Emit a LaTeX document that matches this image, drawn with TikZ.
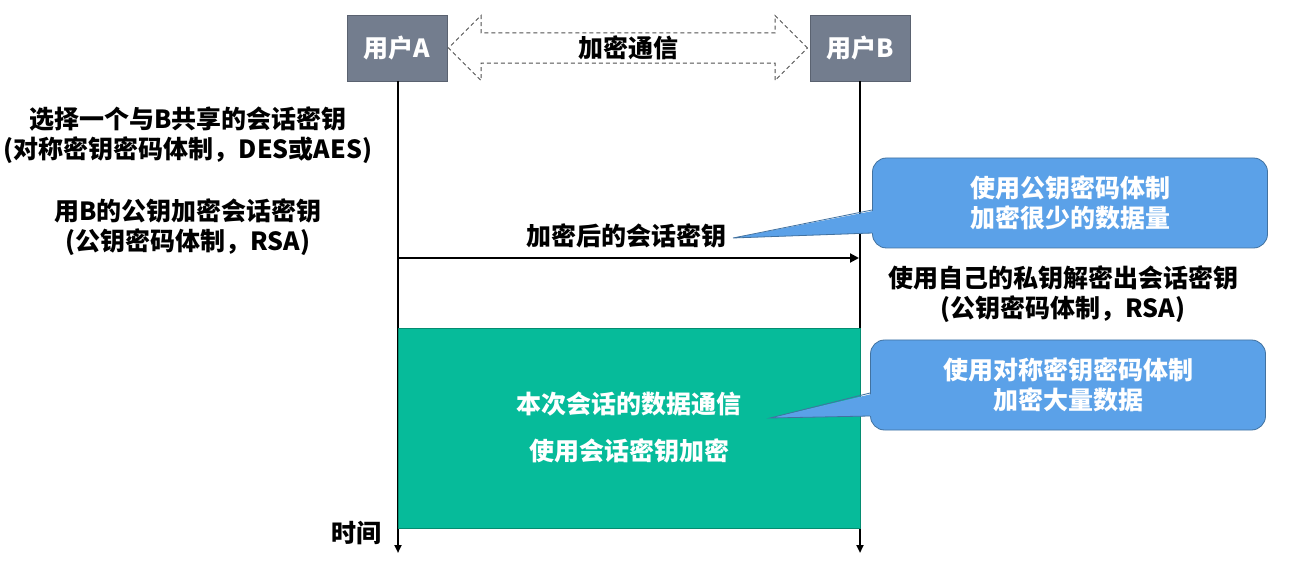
\documentclass[tikz,border=0pt]{standalone}
\usepackage{fontspec}
\setmainfont{Noto Sans CJK SC}
\usetikzlibrary{arrows.meta,shapes.arrows}
\definecolor{usergray}{RGB}{115,125,142}
\definecolor{userline}{RGB}{90,98,112}
\definecolor{tipblue}{RGB}{91,161,232}
\definecolor{tipline}{RGB}{66,114,160}
\definecolor{sessiongreen}{RGB}{6,187,154}
\definecolor{sessionline}{RGB}{4,140,112}
\definecolor{dashgray}{RGB}{80,80,80}
\tikzset{
  txt/.style={font=\fontsize{25}{30}\selectfont\bfseries, inner sep=0pt, align=center},
  userbox/.style={txt, fill=usergray, draw=userline, line width=0.8pt, text=white,
    minimum width=100pt, minimum height=66pt},
  lifeline/.style={line width=2pt, -{Triangle[width=7pt,length=8pt]}},
  msgarrow/.style={line width=2pt, -{Triangle[width=9pt,length=9pt]}},
  tipbox/.style={txt, fill=tipblue, draw=tipline, line width=0.8pt, text=white,
    rounded corners=14pt, minimum width=395pt, minimum height=90pt},
  channel/.style={txt, shape=double arrow, draw=dashgray, line width=1pt,
    dash pattern=on 4pt off 3pt, minimum height=359pt, minimum width=65pt,
    double arrow head extend=14.5pt},
}
\begin{document}
\begin{tikzpicture}[x=1pt,y=-1pt]
\useasboundingbox (0,0) rectangle (1299,561);

% participants
\node[userbox] (ua) at (397,48) {用户A};
\node[userbox] (ub) at (860,48) {用户B};
\node[channel] (ch) at (628,48) {加密通信};

% lifelines
\coordinate (ea) at (398,553);
\coordinate (eb) at (860,553);
\draw[lifeline] (ua.south -| ea) -- (ea);
\draw[lifeline] (ub.south -| eb) -- (eb);

% steps of user A
\node[txt] (s1) at (188,135) {选择一个与B共享的会话密钥\\(对称密钥密码体制，DES或AES)};
\node[txt] (s2) at (188,227) {用B的公钥加密会话密钥\\(公钥密码体制，RSA)};

% encrypted session key message
\coordinate (ma) at (398,258);
\coordinate (mb) at (859,258);
\draw[msgarrow] (ma) -- (mb);
\node[txt] (msg) at (626,236) {加密后的会话密钥};

% step of user B
\node[txt] (s3) at (1063,294) {使用自己的私钥解密出会话密钥\\(公钥密码体制，RSA)};

% session data block
\node[txt, fill=sessiongreen, draw=sessionline, line width=0.8pt, text=white,
  minimum width=462pt, minimum height=200pt,
  font=\fontsize{25}{47}\selectfont\bfseries] (sess) at (629,428)
  {本次会话的数据通信\\使用会话密钥加密};

% time label
\node[txt] (time) at (356,533) {时间};

% callout: public key
\node[tipbox] (c1) at (1070,203) {使用公钥密码体制\\加密很少的数据量};
\coordinate (c1t) at (733,238);
\fill[tipblue] (878,210) -- (c1t) -- (878,233) -- cycle;
\draw[tipline, line width=0.8pt] (c1.west |- 0,210) -- (c1t) -- (c1.west |- 0,233);

% callout: symmetric key
\node[tipbox] (c2) at (1068,385) {使用对称密钥密码体制\\加密大量数据};
\coordinate (c2t) at (770,418);
\fill[tipblue] (876,393) -- (c2t) -- (876,416) -- cycle;
\draw[tipline, line width=0.8pt] (c2.west |- 0,393) -- (c2t) -- (c2.west |- 0,416);
\end{tikzpicture}
\end{document}
